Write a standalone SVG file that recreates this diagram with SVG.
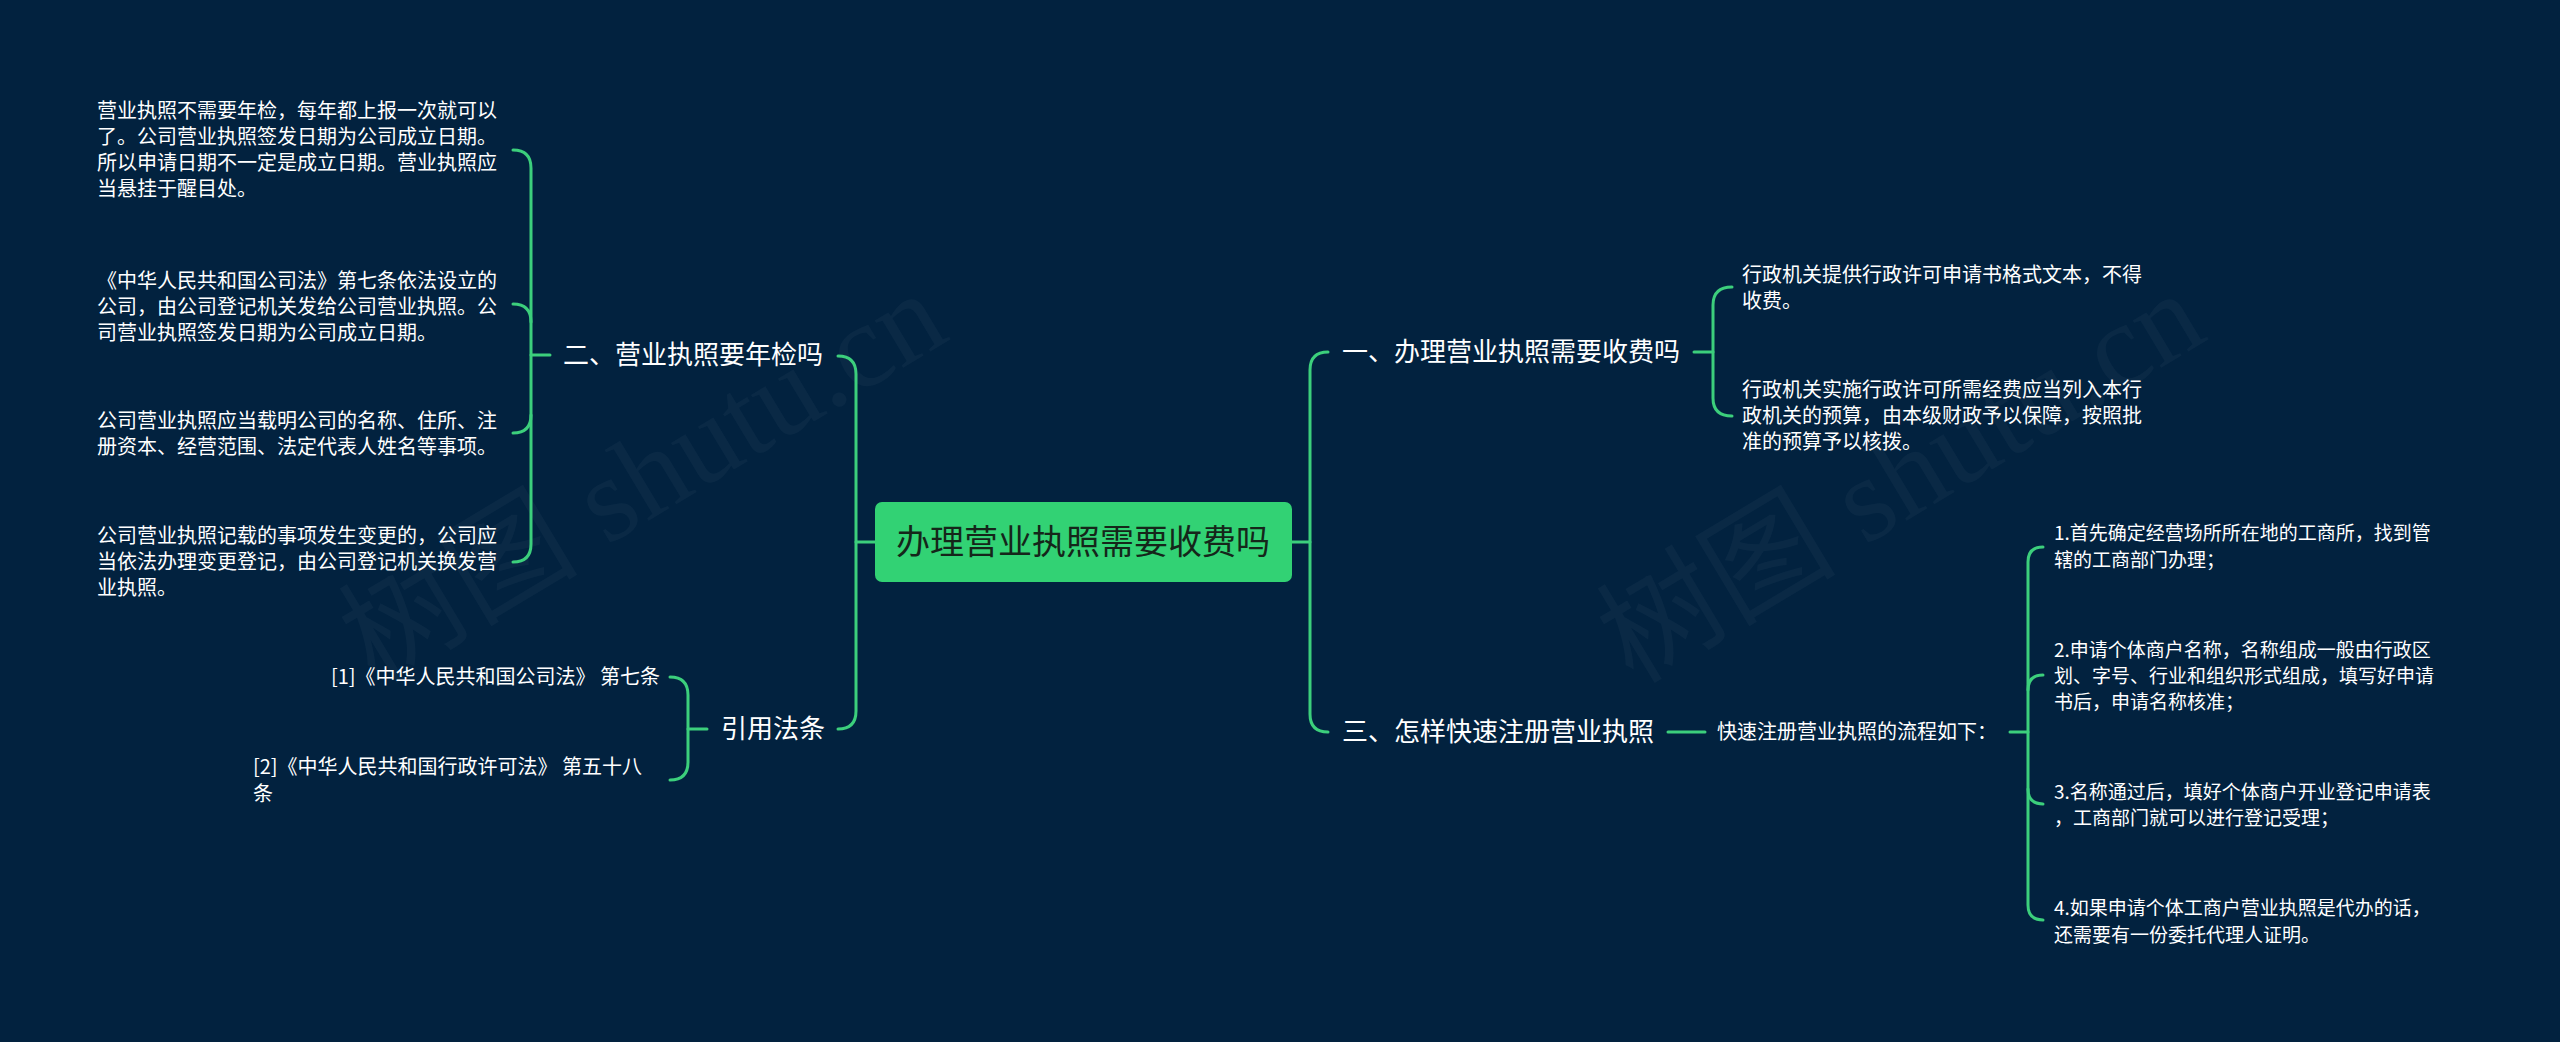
<svg xmlns="http://www.w3.org/2000/svg" width="2560" height="1042" viewBox="0 0 2560 1042">
<style>
.ln{fill:none;stroke:#3ccf7c;stroke-width:3;stroke-linecap:round}
.t{fill:#ffffff;font-family:"Noto Sans CJK SC","Noto Sans",sans-serif}
.s20{font-size:20px}
.s19{font-size:19px}
.s26{font-size:26px}
.wm{fill:#ffffff;fill-opacity:0.035;font-family:"Liberation Serif","Noto Sans CJK SC",serif;font-size:120px}
</style>
<rect x="0" y="0" width="2560" height="1042" fill="#02223f"/>
<g id="watermarks">
<text class="wm" transform="translate(375,685) rotate(-31)">树图 shutu.cn</text>
<text class="wm" transform="translate(1633,685) rotate(-31)">树图 shutu.cn</text>
</g>
<g id="connectors">
<path class="ln" d="M856,542 H875"/>
<path class="ln" d="M838,356 Q856,356 856,374 V711 Q856,729 838,729"/>
<path class="ln" d="M1292,542 H1310"/>
<path class="ln" d="M1328,352 Q1310,352 1310,370 V714 Q1310,732 1328,732"/>
<path class="ln" d="M513,150 Q531,150 531,168 V544 Q531,562 513,562"/>
<path class="ln" d="M513,304 Q531,304 531,322"/>
<path class="ln" d="M513,433 Q531,433 531,415"/>
<path class="ln" d="M531,355 H550"/>
<path class="ln" d="M670,677 Q688,677 688,695 V762 Q688,780 670,780"/>
<path class="ln" d="M688,729 H707"/>
<path class="ln" d="M1732,287 Q1713,287 1713,305 V398 Q1713,416 1732,416"/>
<path class="ln" d="M1694,352 H1713"/>
<path class="ln" d="M1668,732 H1705"/>
<path class="ln" d="M2010,732 H2028"/>
<path class="ln" d="M2043,547 Q2028,547 2028,562 V905 Q2028,920 2043,920"/>
<path class="ln" d="M2043,675 Q2028,675 2028,690"/>
<path class="ln" d="M2043,804 Q2028,804 2028,789"/>
</g>
<g id="root">
<rect x="875" y="502" width="417" height="80" rx="7" fill="#32d274"/>
<text x="1083" y="554" text-anchor="middle" font-size="34" fill="#15261a" font-family="Noto Sans CJK SC, sans-serif">办理营业执照需要收费吗</text>
</g>
<g id="n2">
<text class="t s26" x="563" y="364">二、营业执照要年检吗</text>
</g>
<g id="n2-1">
<text class="t s20" x="97"><tspan x="97" y="118">营业执照不需要年检，每年都上报一次就可以</tspan><tspan x="97" y="144">了。公司营业执照签发日期为公司成立日期。</tspan><tspan x="97" y="170">所以申请日期不一定是成立日期。营业执照应</tspan><tspan x="97" y="196">当悬挂于醒目处。</tspan></text>
</g>
<g id="n2-2">
<text class="t s20"><tspan x="97" y="288">《中华人民共和国公司法》第七条依法设立的</tspan><tspan x="97" y="314">公司，由公司登记机关发给公司营业执照。公</tspan><tspan x="97" y="340">司营业执照签发日期为公司成立日期。</tspan></text>
</g>
<g id="n2-3">
<text class="t s20"><tspan x="97" y="428">公司营业执照应当载明公司的名称、住所、注</tspan><tspan x="97" y="454">册资本、经营范围、法定代表人姓名等事项。</tspan></text>
</g>
<g id="n2-4">
<text class="t s20"><tspan x="97" y="543">公司营业执照记载的事项发生变更的，公司应</tspan><tspan x="97" y="569">当依法办理变更登记，由公司登记机关换发营</tspan><tspan x="97" y="595">业执照。</tspan></text>
</g>
<g id="n4">
<text class="t s26" x="721" y="738">引用法条</text>
</g>
<g id="n4-1">
<text class="t s20" x="660" y="684" text-anchor="end">[1]《中华人民共和国公司法》 第七条</text>
</g>
<g id="n4-2">
<text class="t s20"><tspan x="253" y="774">[2]《中华人民共和国行政许可法》 第五十八</tspan><tspan x="253" y="801">条</tspan></text>
</g>
<g id="n1">
<text class="t s26" x="1342" y="361">一、办理营业执照需要收费吗</text>
</g>
<g id="n1-1">
<text class="t s20"><tspan x="1742" y="282">行政机关提供行政许可申请书格式文本，不得</tspan><tspan x="1742" y="308">收费。</tspan></text>
</g>
<g id="n1-2">
<text class="t s20"><tspan x="1742" y="397">行政机关实施行政许可所需经费应当列入本行</tspan><tspan x="1742" y="423">政机关的预算，由本级财政予以保障，按照批</tspan><tspan x="1742" y="449">准的预算予以核拨。</tspan></text>
</g>
<g id="n3">
<text class="t s26" x="1342" y="741">三、怎样快速注册营业执照</text>
</g>
<g id="n3-0">
<text class="t s20" x="1717" y="739">快速注册营业执照的流程如下：</text>
</g>
<g id="n3-1">
<text class="t s19"><tspan x="2054" y="540">1.首先确定经营场所所在地的工商所，找到管</tspan><tspan x="2054" y="567">辖的工商部门办理；</tspan></text>
</g>
<g id="n3-2">
<text class="t s19"><tspan x="2054" y="657">2.申请个体商户名称，名称组成一般由行政区</tspan><tspan x="2054" y="683">划、字号、行业和组织形式组成，填写好申请</tspan><tspan x="2054" y="709">书后，申请名称核准；</tspan></text>
</g>
<g id="n3-3">
<text class="t s19"><tspan x="2054" y="799">3.名称通过后，填好个体商户开业登记申请表</tspan><tspan x="2054" y="825">，工商部门就可以进行登记受理；</tspan></text>
</g>
<g id="n3-4">
<text class="t s19"><tspan x="2054" y="915">4.如果申请个体工商户营业执照是代办的话，</tspan><tspan x="2054" y="942">还需要有一份委托代理人证明。</tspan></text>
</g>
</svg>
